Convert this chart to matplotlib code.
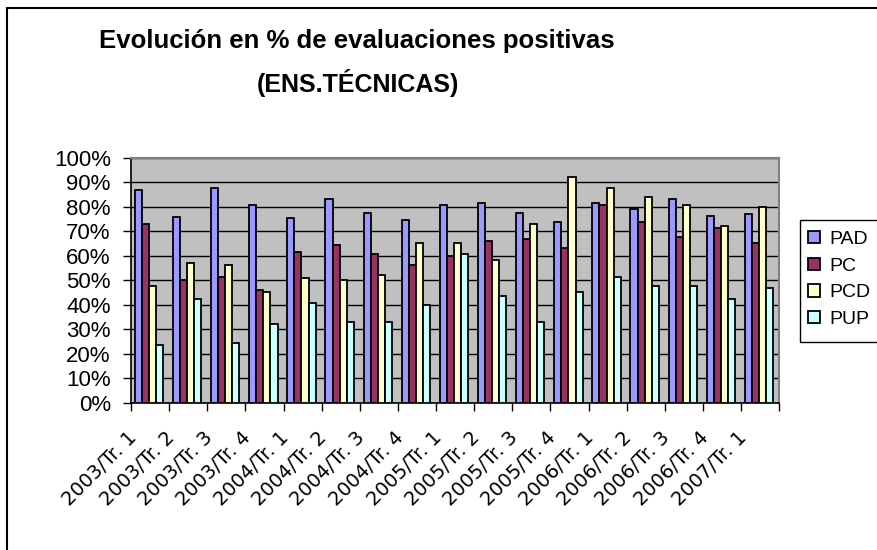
import matplotlib.pyplot as plt
import matplotlib.transforms as mtransforms
from matplotlib.patches import Rectangle
import numpy as np

periods = ["2003/Tr. 1", "2003/Tr. 2", "2003/Tr. 3", "2003/Tr. 4",
           "2004/Tr. 1", "2004/Tr. 2", "2004/Tr. 3", "2004/Tr. 4",
           "2005/Tr. 1", "2005/Tr. 2", "2005/Tr. 3", "2005/Tr. 4",
           "2006/Tr. 1", "2006/Tr. 2", "2006/Tr. 3", "2006/Tr. 4",
           "2007/Tr. 1"]

pad = [86.8, 75.9, 87.6, 80.7, 75.4, 83.0, 77.6, 74.6, 80.7,
       81.5, 77.6, 73.8, 81.5, 79.2, 83.0, 76.1, 76.9]
pc = [72.9, 49.9, 51.4, 46.0, 61.4, 64.5, 60.7, 56.1, 59.9,
      66.1, 66.8, 63.0, 80.7, 73.8, 67.6, 71.4, 65.3]
pcd = [47.6, 56.9, 56.1, 45.3, 50.8, 49.9, 52.3, 65.2, 65.2,
       58.2, 72.9, 92.2, 87.6, 83.8, 80.7, 72.2, 79.9]
pup = [23.6, 42.2, 24.5, 32.3, 40.7, 33.1, 33.1, 39.9, 60.7,
       43.7, 32.9, 45.3, 51.4, 47.6, 47.6, 42.2, 46.8]

series_names = ["PAD", "PC", "PCD", "PUP"]
series_colors = ["#9999FF", "#993366", "#FFFFCC", "#CCFFFF"]

title_lines = ["Evolución en % de evaluaciones positivas", "(ENS.TÉCNICAS)"]

plt.rcParams['font.family'] = ['Liberation Sans', 'DejaVu Sans']

fig = plt.figure(figsize=(8.77, 5.5), dpi=100)
ax = fig.add_axes([131 / 877, 1 - 402.7 / 550, 648.3 / 877, 245 / 550])
ax.set_facecolor("#C0C0C0")

x = np.arange(len(periods))
w = 0.186
for j, (vals, name, col) in enumerate(zip([pad, pc, pcd, pup], series_names, series_colors)):
    ax.bar(x + (j - 1.5) * w - 0.03, vals, width=w, color=col, edgecolor="black",
           linewidth=1.3, label=name, zorder=3)

ax.set_xlim(-0.5, len(periods) - 0.5)
ax.set_ylim(0, 100)
ax.set_yticks(np.arange(0, 101, 10))
ax.set_yticklabels([f"{v}%" for v in range(0, 101, 10)], fontsize=16)
ax.yaxis.grid(True, color="black", linewidth=1.0, zorder=1)
ax.set_axisbelow(True)

ax.set_xticks(x)
ax.set_xticklabels(periods, rotation=45, ha="right", fontsize=14, family="DejaVu Sans")
ax.set_xticks(np.arange(-0.5, len(periods), 1), minor=True)
ax.tick_params(axis="x", which="major", length=0, pad=18)
ax.tick_params(axis="x", which="minor", length=6, width=1, color="black")
ax.tick_params(axis="y", length=6, width=1, pad=8.5)
shift = mtransforms.ScaledTranslation(-0.1, 0, fig.dpi_scale_trans)
for lab in ax.get_xticklabels():
    lab.set_transform(lab.get_transform() + shift)

for side in ["top", "right"]:
    ax.spines[side].set_color("#808080")
    ax.spines[side].set_linewidth(1.5)
for side in ["left", "bottom"]:
    ax.spines[side].set_color("black")
    ax.spines[side].set_linewidth(1.2)

fig.text(357 / 877, 1 - 48 / 550, title_lines[0], ha="center", va="baseline",
         fontsize=18.5, fontweight="bold")
fig.text(358 / 877, 1 - 92 / 550, title_lines[1], ha="center", va="baseline",
         fontsize=18, fontweight="bold")

# legend with a frame that runs past the right edge
handles, labels = ax.get_legend_handles_labels()
fig.legend(handles, labels, loc="upper left", bbox_to_anchor=(804 / 877, 1 - 227 / 550),
           frameon=False, fontsize=14, handlelength=0.6, handleheight=0.6,
           handletextpad=0.5, labelspacing=0.5, borderaxespad=0, borderpad=0.2)
fig.patches.append(Rectangle((800 / 877, 1 - 342 / 550), 0.2, 122 / 550,
                             transform=fig.transFigure, fill=False,
                             edgecolor="black", linewidth=1))

# outer chart border
fig.patches.append(Rectangle((7 / 877, -0.1), 1.0, 1.1 - 8 / 550,
                             transform=fig.transFigure, fill=False,
                             edgecolor="black", linewidth=1.5))

fig.savefig("out.png", dpi=100)
